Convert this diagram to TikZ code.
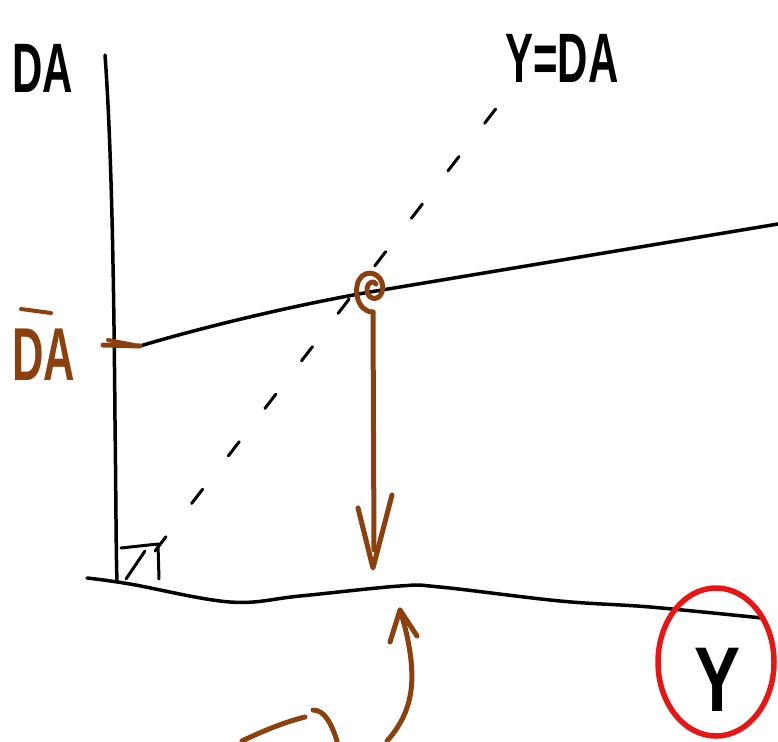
\documentclass[tikz,border=0pt]{standalone}
\usepackage{fontspec}
\usepackage{graphicx}
\setmainfont{Liberation Sans}
\definecolor{brn}{RGB}{139,64,14}
\definecolor{rd}{RGB}{235,20,20}
\begin{document}
\begin{tikzpicture}[x=1pt,y=-1pt, line cap=round, line join=round,
  ink/.style={black, line width=3.5pt},
  brush/.style={brn, line width=5pt},
  lbl/.style={inner sep=0pt, anchor=center, font=\bfseries}]
\useasboundingbox (0,0) rectangle (778,741);

% axes
\draw[ink] (105,55) .. controls (112,150) and (114,300) .. (115,420) .. controls (116,500) and (116,550) .. (117,582);
\draw[ink] plot[smooth, tension=0.6] coordinates {(87,578) (130,584) (230,602) (300,596) (400,586) (440,587) (560,601) (650,607) (762,618)};

% 45 degree line
\coordinate (o45) at (155,551);
\coordinate (e45) at (518,80);
\draw[ink, line width=3pt, dash pattern=on 18pt off 42pt] (o45) -- (e45);

% angle mark
\draw[ink, line width=3pt] (121,548) -- (158,544) -- (159,579);
\draw[ink, line width=3pt] (126,579) -- (145,551);

% DA line
\coordinate (da0) at (140,346);
\coordinate (eq) at (370,292);
\coordinate (da1) at (778,224);
\draw[ink] (da0) .. controls (200,328) and (290,306) .. (eq) -- (da1);

% labels
\node[lbl] (tDA) at (43,68) {\fontsize{70}{70}\selectfont\bfseries\scalebox{0.6}[1]{DA}};
\node[lbl] (tYDA) at (562,58) {\fontsize{70}{70}\selectfont\bfseries\scalebox{0.6}[1]{Y=DA}};
\node[lbl, text=brn] (tDAbar) at (44,355) {\fontsize{75}{75}\selectfont\bfseries\scalebox{0.58}[1]{DA}};
\draw[brush, line width=4pt] (21,309) -- (51,313);
\node[lbl] (tY) at (717,680) {\fontsize{92}{92}\selectfont\bfseries\scalebox{0.75}[1]{Y}};

% red circle around Y
\draw[rd, line width=5.5pt] (716,662) ellipse [x radius=58, y radius=74];

% DA-bar tick arrow
\draw[brush] (103,345) -- (140,346);
\draw[brush, line width=4pt] (108,340) -- (134,345);

% equilibrium loop and down arrow
\coordinate (dn0) at (373,312);
\coordinate (dn1) at (373,568);
\draw[brush] (dn0) .. controls (356,312) and (352,285) .. (362,276) .. controls (372,268) and (386,278) .. (382,292) .. controls (379,302) and (366,300) .. (367,288) .. controls (368,282) and (374,280) .. (376,284);
\draw[brush] (dn0) -- (374,550);
\draw[brush] (358,508) -- (dn1) -- (392,495);

% up arrow
\coordinate (up0) at (387,741);
\coordinate (up1) at (400,610);
\draw[brush] (up0) .. controls (410,715) and (414,690) .. (411,660) .. controls (408,635) and (403,620) .. (up1);
\draw[brush] (390,642) -- (up1) -- (417,636);

% bottom strokes
\draw[brush] (242,741) .. controls (265,730) and (285,722) .. (305,717);
\draw[brush] (313,710) .. controls (325,710) and (332,725) .. (337,741);
\end{tikzpicture}
\end{document}
